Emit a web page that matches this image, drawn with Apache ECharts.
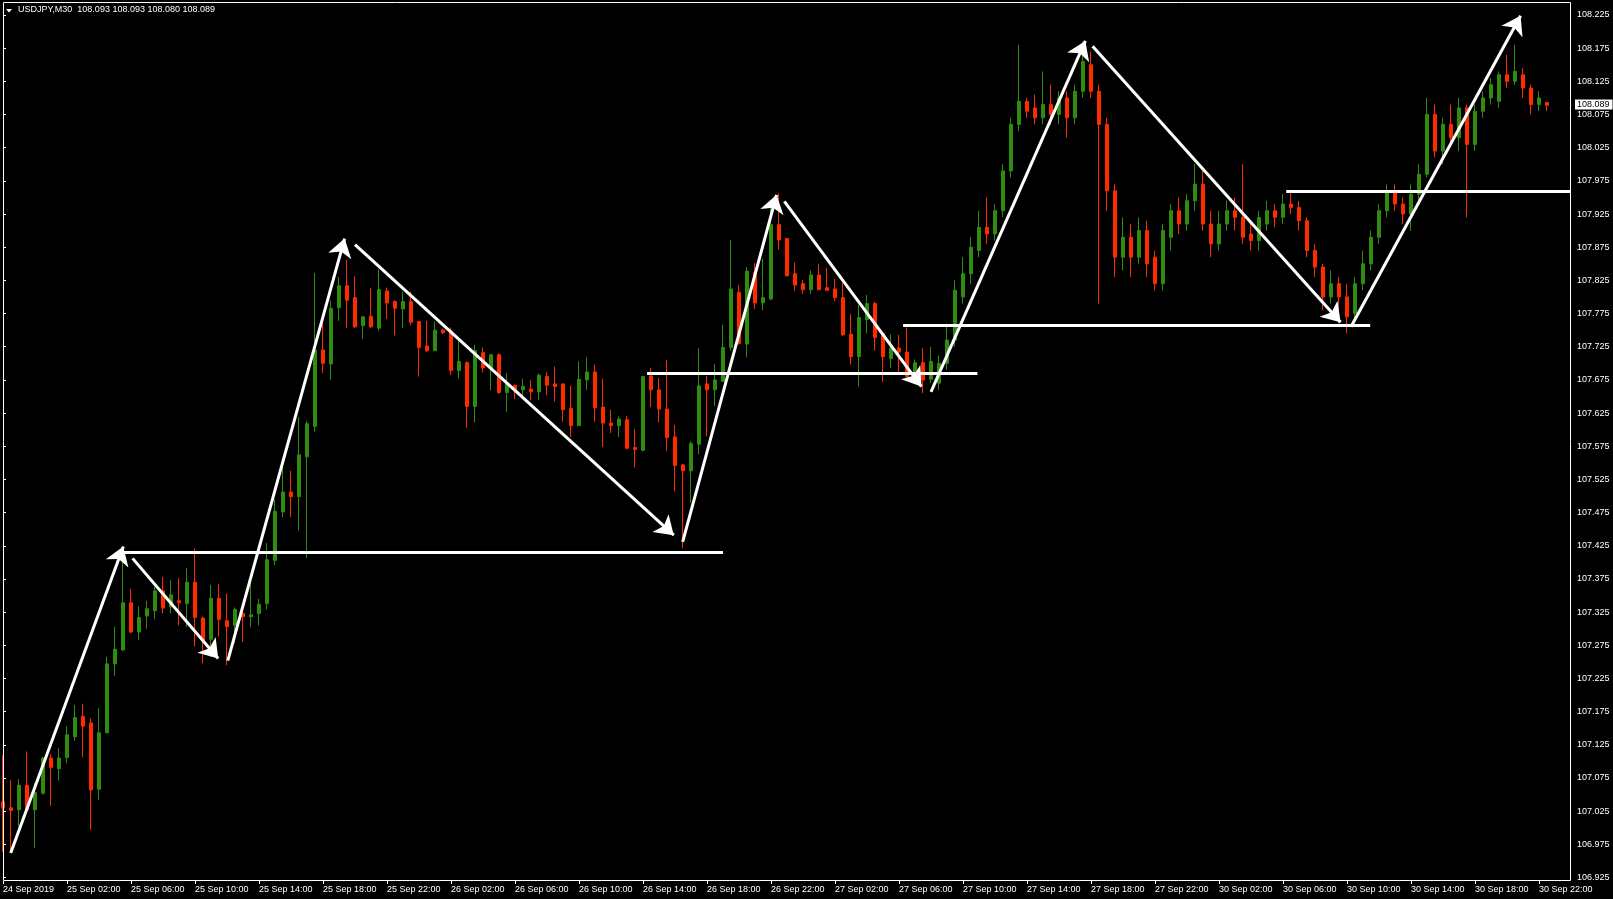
<!DOCTYPE html>
<html><head><meta charset="utf-8">
<script src="https://cdn.jsdelivr.net/npm/echarts@6/dist/echarts.min.js"></script>
<style>html,body{margin:0;padding:0;background:#000;overflow:hidden}#c{width:1613px;height:899px}</style>
</head><body><div id="c"></div><script>
// ---------- data ----------
const symbolName = 'USDJPY,M30';
const headerPrices = ['108.093', '108.093', '108.080', '108.089'];
const lastPrice = 108.089;
const barCount = 197; // category slots (incl. chart shift on the right)

const xTickLabels = ['24 Sep 2019','25 Sep 02:00','25 Sep 06:00','25 Sep 10:00','25 Sep 14:00','25 Sep 18:00','25 Sep 22:00',
  '26 Sep 02:00','26 Sep 06:00','26 Sep 10:00','26 Sep 14:00','26 Sep 18:00','26 Sep 22:00',
  '27 Sep 02:00','27 Sep 06:00','27 Sep 10:00','27 Sep 14:00','27 Sep 18:00','27 Sep 22:00',
  '30 Sep 02:00','30 Sep 06:00','30 Sep 10:00','30 Sep 14:00','30 Sep 18:00','30 Sep 22:00'];

const yTickLabels = [106.925,106.975,107.025,107.075,107.125,107.175,107.225,107.275,107.325,107.375,107.425,
  107.475,107.525,107.575,107.625,107.675,107.725,107.775,107.825,107.875,107.925,107.975,108.025,108.075,
  108.125,108.175,108.225];

const openP = [107.039,107.030,107.027,107.064,107.027,107.052,107.105,107.089,107.106,107.137,
  107.168,107.158,107.058,107.143,107.247,107.268,107.339,107.295,107.319,107.327,
  107.357,107.333,107.342,107.338,107.370,107.316,107.284,107.346,107.312,107.305,
  107.323,107.318,107.323,107.338,107.403,107.476,107.506,107.499,107.559,107.605,
  107.720,107.699,107.784,107.817,107.799,107.757,107.771,107.753,107.809,107.793,
  107.782,107.793,107.763,107.726,107.719,107.750,107.749,107.689,107.701,107.635,
  107.716,107.693,107.713,107.656,107.667,107.660,107.661,107.657,107.680,107.669,
  107.669,107.632,107.606,107.675,107.687,107.634,107.610,107.606,107.615,107.573,
  107.569,107.681,107.660,107.631,107.589,107.547,107.538,107.578,107.669,107.660,
  107.673,107.724,107.807,107.729,107.837,107.791,107.797,107.909,107.888,107.835,
  107.820,107.811,107.833,107.814,107.812,107.799,107.744,107.710,107.766,107.790,
  107.745,107.707,107.723,107.717,107.686,107.701,107.676,107.670,107.700,107.735,
  107.800,107.835,107.870,107.905,107.895,107.930,107.990,108.060,108.095,108.085,
  108.070,108.090,108.075,108.100,108.070,108.110,108.150,108.110,108.060,107.960,
  107.860,107.890,107.860,107.900,107.860,107.820,107.890,107.930,107.910,107.945,
  107.970,107.910,107.880,107.910,107.930,107.920,107.895,107.885,107.910,107.930,
  107.920,107.940,107.935,107.915,107.870,107.845,107.800,107.820,107.800,107.775,
  107.820,107.850,107.890,107.930,107.960,107.940,107.925,107.955,107.985,108.075,
  108.020,108.060,108.040,108.085,108.030,108.080,108.100,108.095,108.135,108.125,
  108.135,108.115,108.090,108.093];

const highP = [107.110,107.072,107.073,107.115,107.067,107.107,107.111,107.120,107.153,107.185,
  107.187,107.165,107.180,107.258,107.303,107.410,107.360,107.334,107.342,107.363,
  107.378,107.373,107.376,107.391,107.421,107.318,107.366,107.367,107.353,107.332,
  107.328,107.371,107.345,107.429,107.495,107.544,107.538,107.619,107.613,107.836,
  107.760,107.795,107.830,107.856,107.831,107.771,107.813,107.841,107.814,107.795,
  107.808,107.808,107.763,107.764,107.763,107.752,107.754,107.733,107.703,107.728,
  107.724,107.713,107.715,107.685,107.667,107.677,107.675,107.685,107.687,107.695,
  107.669,107.666,107.703,107.709,107.698,107.677,107.630,107.620,107.621,107.601,
  107.681,107.693,107.678,107.705,107.607,107.548,107.583,107.723,107.681,107.699,
  107.758,107.886,107.818,107.845,107.851,107.858,107.934,107.956,107.889,107.852,
  107.826,107.840,107.850,107.844,107.827,107.821,107.774,107.788,107.803,107.793,
  107.748,107.744,107.743,107.754,107.706,107.723,107.725,107.712,107.760,107.825,
  107.860,107.890,107.930,107.950,107.940,108.000,108.070,108.180,108.100,108.105,
  108.140,108.120,108.110,108.110,108.120,108.185,108.170,108.120,108.070,107.970,
  107.920,107.910,107.920,107.915,107.870,107.910,107.940,107.950,107.955,108.000,
  107.990,107.930,107.930,107.945,107.950,108.000,107.910,107.930,107.945,107.940,
  107.955,107.960,107.945,107.920,107.880,107.850,107.840,107.830,107.820,107.830,
  107.870,107.900,107.940,107.970,107.970,107.950,107.970,108.000,108.100,108.090,
  108.070,108.090,108.100,108.090,108.090,108.110,108.130,108.140,108.165,108.180,
  108.145,108.120,108.110,108.093];

const lowP = [106.964,106.966,107.002,107.022,106.969,107.050,107.033,107.071,107.097,107.131,
  107.106,106.997,107.042,107.143,107.229,107.266,107.293,107.283,107.300,107.314,
  107.323,107.323,107.305,107.303,107.273,107.248,107.258,107.288,107.245,107.278,
  107.280,107.302,107.305,107.329,107.396,107.468,107.468,107.448,107.406,107.597,
  107.685,107.675,107.764,107.753,107.753,107.737,107.753,107.749,107.767,107.742,
  107.753,107.758,107.680,107.717,107.719,107.744,107.682,107.677,107.603,107.611,
  107.686,107.659,107.654,107.627,107.646,107.647,107.644,107.645,107.652,107.642,
  107.612,107.589,107.606,107.660,107.612,107.574,107.595,107.589,107.570,107.543,
  107.567,107.634,107.611,107.568,107.507,107.421,107.490,107.563,107.590,107.636,
  107.673,107.719,107.728,107.709,107.782,107.780,107.795,107.871,107.831,107.809,
  107.805,107.805,107.810,107.809,107.794,107.741,107.698,107.665,107.745,107.719,
  107.672,107.693,107.685,107.677,107.680,107.655,107.670,107.660,107.690,107.725,
  107.790,107.820,107.860,107.880,107.885,107.920,107.980,108.050,108.070,108.060,
  108.060,108.060,108.060,108.040,108.060,108.100,108.100,107.790,107.930,107.830,
  107.840,107.830,107.850,107.830,107.810,107.810,107.870,107.895,107.900,107.930,
  107.900,107.860,107.870,107.900,107.900,107.880,107.870,107.870,107.900,107.905,
  107.910,107.925,107.900,107.860,107.830,107.780,107.790,107.760,107.745,107.765,
  107.810,107.840,107.880,107.920,107.930,107.910,107.900,107.940,107.980,108.010,
  108.000,108.030,108.020,107.920,108.020,108.070,108.090,108.085,108.115,108.120,
  108.100,108.075,108.080,108.080];

const closeP = [107.030,107.026,107.064,107.027,107.053,107.105,107.091,107.105,107.140,107.166,
  107.153,107.057,107.143,107.247,107.269,107.339,107.295,107.317,107.330,107.357,
  107.331,107.351,107.339,107.370,107.317,107.283,107.346,107.314,107.303,107.329,
  107.318,107.321,107.337,107.404,107.477,107.506,107.499,107.562,107.609,107.720,
  107.700,107.783,107.817,107.795,107.755,107.770,107.755,107.811,107.791,107.783,
  107.793,107.762,107.724,107.719,107.750,107.746,107.689,107.703,107.635,107.719,
  107.693,107.713,107.656,107.670,107.659,107.665,107.657,107.682,107.667,107.665,
  107.630,107.606,107.676,107.687,107.633,107.610,107.606,107.616,107.572,107.570,
  107.680,107.660,107.631,107.588,107.546,107.538,107.579,107.666,107.660,107.675,
  107.724,107.812,107.730,107.839,107.791,107.799,107.909,107.886,107.832,107.818,
  107.811,107.833,107.811,107.810,107.799,107.743,107.710,107.769,107.790,107.739,
  107.710,107.723,107.717,107.680,107.701,107.675,107.703,107.700,107.735,107.810,
  107.835,107.875,107.905,107.895,107.930,107.990,108.060,108.095,108.080,108.070,
  108.090,108.075,108.100,108.070,108.110,108.155,108.110,108.060,107.960,107.860,
  107.890,107.860,107.900,107.850,107.820,107.900,107.930,107.910,107.945,107.970,
  107.910,107.880,107.910,107.930,107.920,107.890,107.885,107.920,107.930,107.920,
  107.940,107.935,107.915,107.870,107.845,107.800,107.820,107.800,107.770,107.820,
  107.850,107.890,107.930,107.960,107.940,107.925,107.955,107.985,108.075,108.020,
  108.060,108.040,108.085,108.030,108.080,108.100,108.120,108.135,108.125,108.140,
  108.115,108.090,108.100,108.089];

// hand-drawn annotations: [startBar, startPrice, endBar, endPrice]
const arrowSegments = [
  [0.96, 106.962, 15.04, 107.424],
  [16.2, 107.406, 26.9, 107.255],
  [28.1, 107.252, 42.7, 107.888],
  [44.0, 107.879, 83.85, 107.441],
  [84.96, 107.431, 96.7, 107.954],
  [97.67, 107.944, 114.8, 107.665],
  [116.0, 107.657, 135.3, 108.186],
  [136.2, 108.178, 167.2, 107.762],
  [168.5, 107.755, 189.7, 108.224]
];
// [startBar, endBar, price]
const levelLines = [
  [14.4, 90.0, 107.4148],
  [80.5, 121.8, 107.685],
  [112.5, 170.9, 107.758],
  [160.4, 196.0, 107.960]
];

// ---------- chart ----------
const GREEN = '#2e8c10', RED = '#ff2a00', FONT = 'Liberation Sans';
const categories = [];
for (let i = 0; i < barCount; i++) categories.push(String(i));
const ohlc = openP.map((o, i) => [o, closeP[i], lowP[i], highP[i]]);

const chart = echarts.init(document.getElementById('c'), null, {renderer: 'canvas'});
chart.setOption({
  backgroundColor: '#000',
  animation: false,
  grid: {left: -1, right: 38, top: 2, bottom: 18, containLabel: false, outerBoundsMode: 'none'},
  xAxis: [{
    type: 'category', data: categories, boundaryGap: true,
    axisLine: {show: false},
    axisTick: {show: true, alignWithLabel: true, interval: 7, length: 3, lineStyle: {color: '#fff'}},
    axisLabel: {interval: 7, color: '#fff', fontSize: 9, fontFamily: FONT, align: 'left', margin: 4,
      formatter: (v, i) => xTickLabels[i / 8] || ''},
    splitLine: {show: false}
  }, {
    type: 'value', min: -0.5, max: barCount - 0.5, show: false
  }],
  yAxis: {
    type: 'value', position: 'right', offset: -4,
    min: 106.9197, max: 108.2446,
    splitLine: {show: false}, axisLine: {show: false},
    axisTick: {show: true, length: 3, lineStyle: {color: '#fff'}, customValues: yTickLabels},
    axisLabel: {color: '#fff', fontSize: 9, fontFamily: FONT, margin: 6, customValues: yTickLabels,
      formatter: v => Number(v).toFixed(3)}
  },
  series: [{
    type: 'candlestick', data: ohlc, barWidth: 4, clip: true,
    itemStyle: {color: GREEN, color0: RED, borderColor: GREEN, borderColor0: RED, borderWidth: 1},
    markLine: {
      silent: true, symbol: ['none', 'none'], animation: false,
      lineStyle: {color: 'rgba(0,0,0,0)', width: 1, type: 'solid'},
      label: {show: true, position: 'end', distance: 0, formatter: lastPrice.toFixed(3),
        color: '#000', backgroundColor: '#fff', fontSize: 9, fontFamily: FONT, padding: [1, 3, 0, 2]},
      emphasis: {disabled: true},
      data: [{yAxis: lastPrice}]
    }
  }, {
    type: 'lines', coordinateSystem: 'cartesian2d', xAxisIndex: 1, yAxisIndex: 0, silent: true, z: 5,
    symbol: ['none', 'none'],
    lineStyle: {color: '#fff', width: 3, opacity: 1},
    data: levelLines.map(l => ({coords: [[l[0], l[2]], [l[1], l[2]]]}))
  }, {
    type: 'lines', coordinateSystem: 'cartesian2d', xAxisIndex: 1, yAxisIndex: 0, silent: true, z: 6,
    symbol: ['none', 'arrow'], symbolSize: 18,
    lineStyle: {color: '#fff', width: 3, opacity: 1},
    itemStyle: {color: '#fff'},
    data: arrowSegments.map(a => ({coords: [[a[0], a[1]], [a[2], a[3]]]}))
  }],
  graphic: [
    {type: 'rect', silent: true, z: 100, shape: {x: 3.5, y: 2.5, width: 1567, height: 878},
      style: {fill: null, stroke: '#fff', lineWidth: 1}},
    {type: 'polygon', silent: true, z: 100, shape: {points: [[6, 9], [12, 9], [9, 12.5]]}, style: {fill: '#fff'}},
    {type: 'text', silent: true, z: 100, left: 18, top: 5,
      style: {text: symbolName + '  ' + headerPrices.join(' '), fill: '#fff', font: '9px "Liberation Sans"'}}
  ]
});
</script></body></html>
